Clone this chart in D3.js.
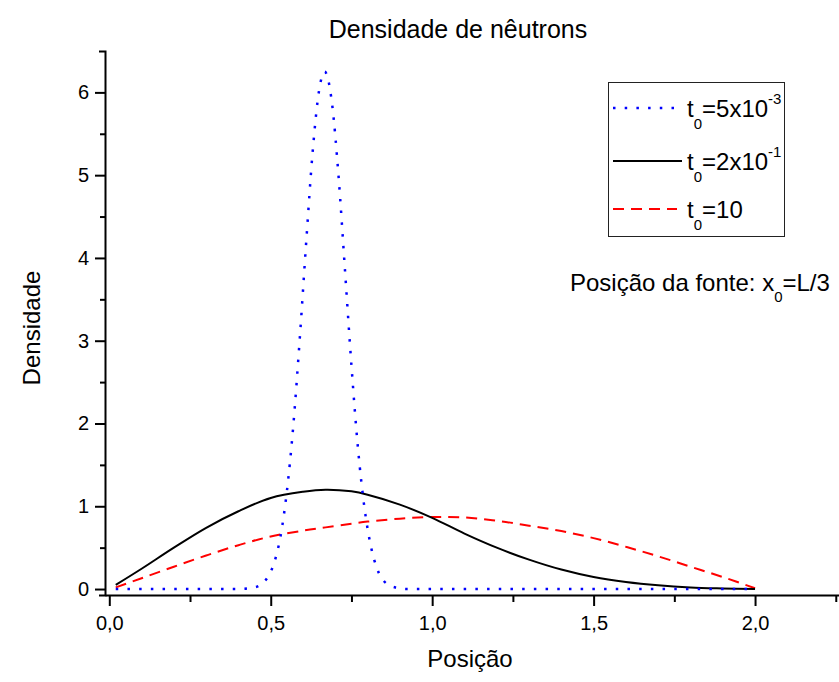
<!DOCTYPE html>
<html>
<head>
<meta charset="utf-8">
<script src="https://cdn.jsdelivr.net/npm/d3@7"></script>
<style>
  html, body { margin: 0; padding: 0; background: #fff; }
  svg { display: block; font-family: "Liberation Sans", Arial, sans-serif; }
</style>
</head>
<body>
<div id="chart"></div>
<script>
// values
const xGrid = [0.02, 0.1, 0.2, 0.3, 0.4, 0.5, 0.6, 0.67, 0.75, 0.8, 0.9, 1.0,
  1.1, 1.2, 1.3, 1.4, 1.5, 1.6, 1.7, 1.8, 1.9, 2.0];
const densMid = [0.05, 0.245, 0.50, 0.74, 0.94, 1.10, 1.175, 1.20, 1.18, 1.14, 1.02, 0.86,
  0.67, 0.50, 0.355, 0.235, 0.145, 0.085, 0.045, 0.02, 0.008, 0.0];
const densLate = [0.02, 0.13, 0.27, 0.405, 0.53, 0.635, 0.705, 0.745, 0.79, 0.815, 0.85, 0.87,
  0.865, 0.825, 0.765, 0.70, 0.615, 0.51, 0.395, 0.27, 0.145, 0.01];

const xEarly = [0.02, 0.1, 0.2, 0.3, 0.4, 0.45, 0.47, 0.49, 0.51, 0.53, 0.55, 0.57, 0.59,
  0.61, 0.63, 0.65, 0.667, 0.69, 0.71, 0.73, 0.75, 0.77, 0.79, 0.81, 0.83, 0.85, 0.87,
  0.89, 0.92, 1.0, 1.2, 1.4, 1.6, 1.8, 2.0];
const densEarly = [0, 0, 0, 0, 0, 0.02, 0.055, 0.14, 0.31, 0.63, 1.18, 1.98, 3.03,
  4.20, 5.29, 6.03, 6.25, 5.86, 4.99, 3.85, 2.70, 1.71, 0.99, 0.52, 0.24, 0.10, 0.04,
  0.015, 0, 0, 0, 0, 0, 0, 0];

const seriesMant = ['5x10', '2x10', '10'];
const seriesExp = ['-3', '-1', ''];

const xMajor = [0, 0.5, 1.0, 1.5, 2.0];
const xMinor = [0.25, 0.75, 1.25, 1.75, 2.25];
const yMajor = [0, 1, 2, 3, 4, 5, 6];
const yMinor = [0.5, 1.5, 2.5, 3.5, 4.5, 5.5];

const W = 839, H = 682;
const svg = d3.select('#chart').append('svg')
  .attr('width', W).attr('height', H);

const x = d3.scaleLinear().domain([-0.0133, 2.26]).range([105, 839]);
const y = d3.scaleLinear().domain([-0.072, 6.5]).range([595, 51]);

const comma = (d) => d3.format('.1f')(d).replace('.', ',');

// axes
const xAxisG = svg.append('g').attr('transform', `translate(0,${y.range()[0]})`);
xAxisG.call(d3.axisBottom(x).tickValues(xMajor).tickSize(11).tickSizeOuter(0).tickPadding(10).tickFormat(comma));
const xMinorG = svg.append('g').attr('transform', `translate(0,${y.range()[0]})`);
xMinorG.call(d3.axisBottom(x).tickValues(xMinor).tickSize(7).tickSizeOuter(0).tickFormat(''));

const yAxisG = svg.append('g').attr('transform', `translate(${x.range()[0]},0)`);
yAxisG.call(d3.axisLeft(y).tickValues(yMajor).tickSize(10).tickSizeOuter(6).tickPadding(6).tickFormat(d3.format('d')));
const yMinorG = svg.append('g').attr('transform', `translate(${x.range()[0]},0)`);
yMinorG.call(d3.axisLeft(y).tickValues(yMinor).tickSize(5).tickSizeOuter(0).tickFormat(''));

[xAxisG, xMinorG, yAxisG, yMinorG].forEach((a) => {
  a.selectAll('path,line').attr('stroke', '#000').attr('stroke-width', 2);
  a.selectAll('text').attr('fill', '#000').style('font-size', '20px')
    .style('font-family', '"Liberation Sans", Arial, sans-serif');
});
xMinorG.select('path').remove();
yMinorG.select('path').remove();

// curves
const smooth = d3.line().x((d) => x(d[0])).y((d) => y(d[1])).curve(d3.curveCatmullRom.alpha(0.5));
const peaked = d3.line().x((d) => x(d[0])).y((d) => y(d[1])).curve(d3.curveMonotoneX);
const plot = svg.append('g');

plot.append('path')
  .datum(d3.zip(xGrid, densLate))
  .attr('d', smooth).attr('fill', 'none')
  .attr('stroke', '#ff0000').attr('stroke-width', 2).attr('stroke-dasharray', '11,7');

plot.append('path')
  .datum(d3.zip(xGrid, densMid))
  .attr('d', smooth).attr('fill', 'none')
  .attr('stroke', '#000').attr('stroke-width', 2);

plot.append('path')
  .datum(d3.zip(xEarly, densEarly))
  .attr('d', peaked).attr('fill', 'none')
  .attr('stroke', '#0000ff').attr('stroke-width', 2.5).attr('stroke-dasharray', '2.5,9.2');

// titles
svg.append('text').attr('x', 458).attr('y', 38).attr('text-anchor', 'middle')
  .style('font-size', '25px').text('Densidade de nêutrons');
svg.append('text').attr('x', 470).attr('y', 667).attr('text-anchor', 'middle')
  .style('font-size', '24px').text('Posição');
svg.append('text').attr('transform', 'translate(40,328) rotate(-90)').attr('text-anchor', 'middle')
  .style('font-size', '24px').text('Densidade');

// legend
const legend = svg.append('g');
legend.append('rect').attr('x', 608.5).attr('y', 82.5).attr('width', 176).attr('height', 154)
  .attr('fill', 'none').attr('stroke', '#222').attr('stroke-width', 1);

const legendStyles = [
  { color: '#0000ff', dash: '2.5,9.2', w: 2.5, len: 69 },
  { color: '#000', dash: null, w: 2, len: 69 },
  { color: '#ff0000', dash: '11,7', w: 2, len: 64 }
];
const rowY = [108, 161, 209];

seriesMant.forEach((m, i) => {
  const s = legendStyles[i];
  legend.append('line')
    .attr('x1', 613).attr('x2', 613 + s.len).attr('y1', rowY[i]).attr('y2', rowY[i])
    .attr('stroke', s.color).attr('stroke-width', s.w)
    .attr('stroke-dasharray', s.dash);
  const t = legend.append('text').attr('x', 687).attr('y', rowY[i] + 9).style('font-size', '24px');
  t.append('tspan').text('t');
  t.append('tspan').attr('dy', 12).style('font-size', '15px').text('0');
  t.append('tspan').attr('dy', -12).text('=' + m);
  if (seriesExp[i]) {
    t.append('tspan').attr('dy', -13).style('font-size', '15px').text(seriesExp[i]);
  }
});

// annotation
const note = svg.append('text').attr('x', 570).attr('y', 291).style('font-size', '24px');
note.append('tspan').text('Posição da fonte: x');
note.append('tspan').attr('dy', 11).style('font-size', '15px').text('0');
note.append('tspan').attr('dy', -11).text('=L/3');
</script>
</body>
</html>
